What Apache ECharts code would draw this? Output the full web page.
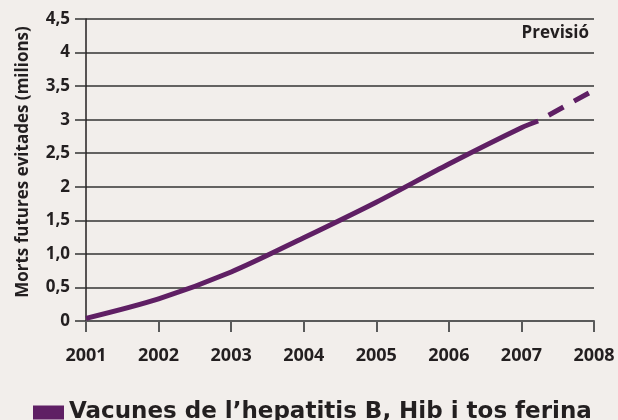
<!DOCTYPE html>
<html>
<head>
<meta charset="utf-8">
<script src="https://cdn.jsdelivr.net/npm/echarts@6/dist/echarts.min.js"></script>
<style>
  html, body { margin: 0; padding: 0; background: #f2eeeb; }
  #chart { width: 618px; height: 420px; }
</style>
</head>
<body>
<div id="chart"></div>
<script>
// dades llegides del gràfic
var years = [2001, 2002, 2003, 2004, 2005, 2006, 2007, 2007.23];
var deaths = [0.04, 0.33, 0.73, 1.24, 1.77, 2.34, 2.88, 2.98];
var forecastYears = [2007.23, 2008];
var forecastDeaths = [2.98, 3.44];
var yTickLabels = ['0', '0,5', '1,0', '1,5', '2', '2,5', '3', '3,5', '4', '4,5'];
var seriesName = 'Vacunes de l\u2019hepatitis B, Hib i tos ferina';

var purple = '#5f1f64';
var ink = '#231f20';
var font = '"Open Sans", "Noto Sans", sans-serif';

function pairs(xs, ys) {
  var out = [];
  for (var i = 0; i < xs.length; i++) out.push([xs[i], ys[i]]);
  return out;
}

var chart = echarts.init(document.getElementById('chart'));
var option = {
  backgroundColor: '#f2eeeb',
  animation: false,
  textStyle: { fontFamily: font },
  grid: { left: 86, right: 24, top: 19, bottom: 99 },
  legend: {
    left: 33,
    top: 401,
    padding: 0,
    itemWidth: 31,
    itemHeight: 14,
    itemGap: 6,
    icon: 'rect',
    data: [seriesName],
    textStyle: { color: ink, fontSize: 23, fontWeight: 'bold', fontFamily: '"DejaVu Sans", sans-serif' }
  },
  graphic: [
    {
      type: 'text',
      right: 29,
      top: 25,
      style: { text: 'Previsió', fill: ink, font: 'bold 17px ' + font }
    },
    {
      type: 'text',
      x: 23,
      y: 162,
      rotation: Math.PI / 2,
      style: {
        text: 'Morts futures evitades (milions)',
        fill: ink,
        font: 'bold 17px ' + font,
        align: 'center',
        verticalAlign: 'middle'
      }
    }
  ],
  xAxis: {
    type: 'value',
    min: 2001,
    max: 2008,
    interval: 1,
    axisLine: { show: true, lineStyle: { color: '#5a5a5a', width: 2 } },
    axisTick: { show: true, length: 11, lineStyle: { color: '#5a5a5a', width: 2 } },
    splitLine: { show: false },
    axisLabel: {
      margin: 26,
      color: ink,
      fontSize: 18,
      fontWeight: 'bold',
      formatter: function (v) { return String(v); }
    }
  },
  yAxis: {
    type: 'value',
    min: 0,
    max: 4.5,
    interval: 0.5,
    axisLine: { show: true, lineStyle: { color: ink, width: 1.5 } },
    axisTick: { show: true, length: 11, lineStyle: { color: '#333', width: 1.5 } },
    splitLine: { show: true, lineStyle: { color: '#333', width: 1.5 } },
    axisLabel: {
      margin: 16,
      color: ink,
      fontSize: 17,
      fontWeight: 'bold',
      formatter: function (v) { return yTickLabels[Math.round(v * 2)]; }
    }
  },
  series: [
    {
      name: seriesName,
      type: 'line',
      data: pairs(years, deaths),
      smooth: 0.3,
      symbol: 'none',
      color: purple,
      lineStyle: { color: purple, width: 5 },
      z: 5
    },
    {
      name: seriesName,
      type: 'line',
      data: pairs(forecastYears, forecastDeaths),
      symbol: 'none',
      color: purple,
      lineStyle: { color: purple, width: 5, type: [17, 12], dashOffset: -12 },
      z: 5
    }
  ]
};
chart.setOption(option);
</script>
</body>
</html>
